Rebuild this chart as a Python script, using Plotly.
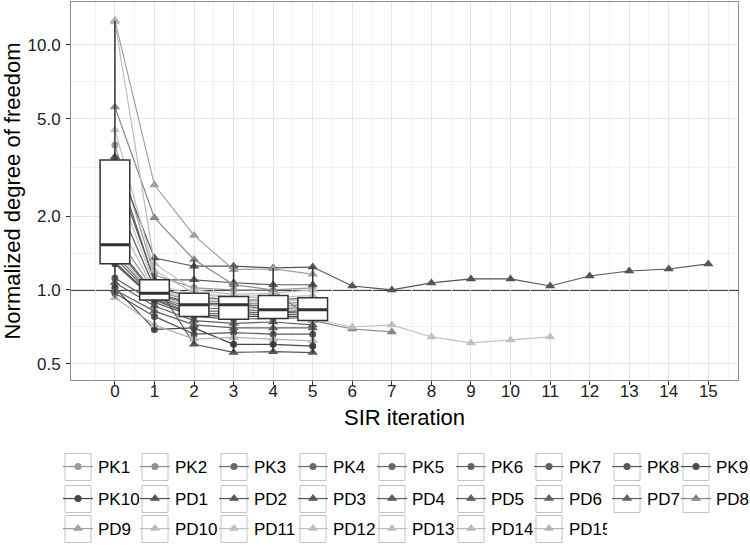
import numpy as np
import plotly.graph_objects as go

# ---------------- data ----------------
iterations = list(range(16))

PK1 = [3.91, 1.15, 1.02, 1.00, 1.00, 1.02]
PK2 = [1.70, 0.99, 0.90, 0.89, 0.87, 0.90]
PK3 = [1.50, 0.96, 0.87, 0.87, 0.83, 0.86]
PK4 = [1.40, 0.94, 0.84, 0.84, 0.81, 0.83]
PK5 = [1.35, 0.93, 0.82, 0.82, 0.80, 0.82]
PK6 = [1.30, 0.92, 0.80, 0.80, 0.79, 0.80]
PK7 = [1.12, 0.89, 0.78, 0.76, 0.765, 0.77]
PK8 = [0.97, 0.78, 0.66, 0.67, 0.66, 0.66]
PK9 = [1.28, 0.91, 0.79, 0.78, 0.78, 0.78]
PK10 = [1.02, 0.69, 0.70, 0.60, 0.60, 0.59]
PD1 = [3.50, 1.35, 1.25, 1.25, 1.23, 1.24, 1.038, 1.00, 1.068, 1.109, 1.109,
       1.038, 1.14, 1.195, 1.218, 1.277]
PD2 = [3.39, 1.08, 0.60, 0.556, 0.56, 0.555]
PD3 = [3.10, 1.10, 1.10, 1.07, 1.05, 1.05]
PD4 = [2.40, 1.02, 0.94, 0.91, 0.91, 0.93]
PD5 = [1.53, 0.97, 0.88, 0.88, 0.85, 0.88]
PD6 = [1.07, 0.86, 0.75, 0.73, 0.74, 0.72]
PD7 = [1.00, 0.82, 0.72, 0.70, 0.70, 0.70]
PD8 = [5.58, 1.97, 1.33, 1.05, 1.00, 0.75, 0.693, 0.674]
PD9 = [12.6, 2.68, 1.67, 1.21, 1.22, 1.16]
PD10 = [12.4, 1.28, 1.00, 0.96, 0.97, 1.00]
PD11 = [4.50, 1.20, 0.97, 0.94, 0.95, 0.76, 0.706, 0.72, 0.643, 0.608, 0.625, 0.643]
PD12 = [2.80, 1.05, 0.96, 0.93, 0.93, 0.95]
PD13 = [2.00, 1.00, 0.92, 0.90, 0.89, 0.92]
PD14 = [1.45, 0.95, 0.86, 0.86, 0.82, 0.84]
PD15 = [0.93, 0.72, 0.63, 0.64, 0.63, 0.62]

series_names = ["PK1", "PK2", "PK3", "PK4", "PK5", "PK6", "PK7", "PK8", "PK9", "PK10",
                "PD1", "PD2", "PD3", "PD4", "PD5", "PD6", "PD7", "PD8", "PD9", "PD10",
                "PD11", "PD12", "PD13", "PD14", "PD15"]
series_values = [PK1, PK2, PK3, PK4, PK5, PK6, PK7, PK8, PK9, PK10,
                 PD1, PD2, PD3, PD4, PD5, PD6, PD7, PD8, PD9, PD10,
                 PD11, PD12, PD13, PD14, PD15]

y_tick_vals = [0.5, 1.0, 2.0, 5.0, 10.0]
y_tick_text = ["0.5", "1.0", "2.0", "5.0", "10.0"]

# ---------------- styles ----------------
FONT = "Liberation Sans, Arial, sans-serif"
series_colors = {
    "PK1": "#9a9a9a", "PK2": "#8e8e8e", "PK3": "#6a6a6a", "PK4": "#6a6a6a",
    "PK5": "#666666", "PK6": "#626262", "PK7": "#5e5e5e", "PK8": "#585858",
    "PK9": "#4a4a4a", "PK10": "#464646",
    "PD1": "#555555", "PD2": "#575757", "PD3": "#595959", "PD4": "#5b5b5b",
    "PD5": "#5d5d5d", "PD6": "#606060", "PD7": "#626262", "PD8": "#888888",
    "PD9": "#a0a0a0", "PD10": "#bdbdbd", "PD11": "#c0c0c0", "PD12": "#c0c0c0",
    "PD13": "#bdbdbd", "PD14": "#b9b9b9", "PD15": "#b5b5b5",
}

# legend layout (pixels): 9 columns, 3 rows
ncol = 9
col_centers_px = [78, 155, 234, 313, 392, 471, 549, 627, 696]
row_centers_px = [467, 499, 529]
PLOT_L, PLOT_R, PLOT_T, PLOT_B = 71, 738, 2, 380
PW, PH = PLOT_R - PLOT_L, PLOT_B - PLOT_T


def px_to_paper_x(px):
    return (px - PLOT_L) / PW


def px_to_paper_y(py):
    return (PLOT_B - py) / PH


col_widths = [col_centers_px[j + 1] - col_centers_px[j] - 45 for j in range(ncol - 1)] + [40]

fig = go.Figure()

for idx, (name, vals) in enumerate(zip(series_names, series_values)):
    row, colj = idx // ncol, idx % ncol
    legend_id = "legend" if row == 0 else f"legend{row + 1}"
    col = series_colors[name]
    is_pk = name.startswith("PK")
    fig.add_trace(go.Scatter(
        x=iterations[:len(vals)], y=vals, name=name, mode="lines+markers",
        line=dict(color=col, width=1.2),
        marker=dict(symbol="circle" if is_pk else "triangle-up",
                    size=7 if is_pk else 9, color=col),
        legend=legend_id, legendwidth=col_widths[colj], hoverinfo="skip",
    ))

# ---------------- boxplots (computed on log scale, like ggplot) ----------------
n_series = len(series_values)
box_x, q1s, meds, q3s, los, his = [], [], [], [], [], []
for it in iterations:
    vals = [v[it] for v in series_values if len(v) > it]
    if len(vals) < n_series:
        continue
    lv = np.log10(np.array(vals))
    q1, med, q3 = np.percentile(lv, [25, 50, 75])
    iqr = q3 - q1
    lo = lv[lv >= q1 - 1.5 * iqr].min()
    hi = lv[lv <= q3 + 1.5 * iqr].max()
    box_x.append(it)
    q1s.append(10 ** q1); meds.append(10 ** med); q3s.append(10 ** q3)
    los.append(10 ** lo); his.append(10 ** hi)

fig.add_trace(go.Box(
    x=box_x, q1=q1s, median=meds, q3=q3s, lowerfence=los, upperfence=his,
    orientation="v", width=0.75, whiskerwidth=0, boxpoints=False,
    fillcolor="white", line=dict(color="#333333", width=1.5),
    showlegend=False, hoverinfo="skip", xaxis="x2", yaxis="y2",
))
# thicker median bar
fig.add_trace(go.Box(
    x=box_x, q1=meds, median=meds, q3=meds, lowerfence=meds, upperfence=meds,
    orientation="v", width=0.75, whiskerwidth=0, boxpoints=False,
    fillcolor="white", line=dict(color="#333333", width=3),
    showlegend=False, hoverinfo="skip", xaxis="x2", yaxis="y2",
))

# reference line at 1
fig.add_shape(type="line", xref="paper", x0=0, x1=1, yref="y", y0=1, y1=1,
              line=dict(color="black", width=1.5), layer="between")

# legend key frames (ggplot style)
for idx in range(n_series):
    row, colj = idx // ncol, idx % ncol
    cx, cy = col_centers_px[colj], row_centers_px[row]
    fig.add_shape(type="rect", xref="paper", yref="paper",
                  x0=px_to_paper_x(cx - 13), x1=px_to_paper_x(cx + 13),
                  y0=px_to_paper_y(cy + 13.5), y1=px_to_paper_y(cy - 13.5),
                  line=dict(color="#c4c4c4", width=1), fillcolor="rgba(0,0,0,0)",
                  layer="below")

x_range = [-1.11, 15.75]
y_range = [np.log10(0.429), np.log10(14.98)]
grid_major = "#e6e6e6"
grid_minor = "#f2f2f2"

fig.update_layout(
    width=750, height=545,
    margin=dict(l=PLOT_L, r=750 - PLOT_R, t=PLOT_T, b=545 - PLOT_B, autoexpand=False),
    paper_bgcolor="white", plot_bgcolor="white",
    font=dict(family=FONT, size=17, color="#222222"),
    xaxis=dict(
        range=x_range, tickmode="array", tickvals=iterations,
        ticks="outside", ticklen=4, tickcolor="#333333",
        tickfont=dict(size=17, color="#222222"), ticklabelstandoff=-8,
        showgrid=True, gridcolor=grid_major, gridwidth=1,
        minor=dict(tickmode="array", tickvals=[i - 0.5 for i in iterations] + [15.5],
                   showgrid=True, gridcolor=grid_minor, ticks=""),
        showline=True, mirror=True, linecolor="#8c8c8c", linewidth=1,
        zeroline=False,
        title=dict(text="SIR iteration", font=dict(size=22, color="black"), standoff=9),
    ),
    yaxis=dict(
        type="log", range=y_range, tickmode="array",
        tickvals=y_tick_vals, ticktext=y_tick_text,
        ticks="outside", ticklen=4, tickcolor="#333333",
        tickfont=dict(size=17, color="#222222"), ticklabelstandoff=2,
        showgrid=True, gridcolor=grid_major, gridwidth=1,
        minor=dict(tickmode="array",
                   tickvals=[float(np.sqrt(0.5)), float(np.sqrt(2)),
                             float(np.sqrt(10)), float(np.sqrt(50))],
                   showgrid=True, gridcolor=grid_minor, ticks=""),
        showline=True, mirror=True, linecolor="#8c8c8c", linewidth=1,
        zeroline=False,
        title=dict(text="Normalized degree of freedom",
                   font=dict(size=22, color="black"), standoff=0),
    ),
    xaxis2=dict(overlaying="x", range=x_range, visible=False, anchor="y2"),
    yaxis2=dict(overlaying="y", type="log", range=y_range, visible=False, anchor="x2"),
    showlegend=True,
)

leg_common = dict(orientation="h", xanchor="left", yanchor="middle",
                  x=px_to_paper_x(col_centers_px[0] - 20),
                  font=dict(family=FONT, size=17, color="black"),
                  itemwidth=30, bgcolor="rgba(0,0,0,0)", borderwidth=0)
fig.update_layout(
    legend=dict(leg_common, y=px_to_paper_y(row_centers_px[0])),
    legend2=dict(leg_common, y=px_to_paper_y(row_centers_px[1])),
    legend3=dict(leg_common, y=px_to_paper_y(row_centers_px[2])),
)

fig.write_html("out.html", config={"displayModeBar": False},
               post_script="document.body.style.margin='0px';")
